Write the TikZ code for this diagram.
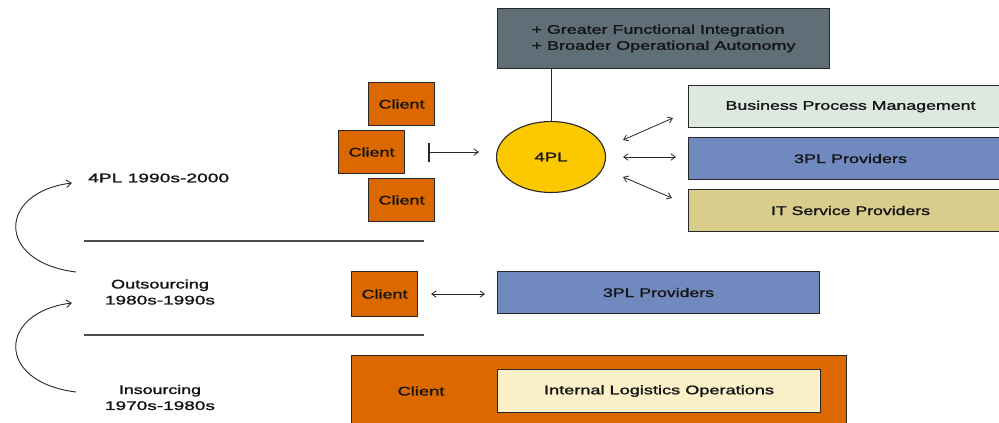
\documentclass[tikz,border=0pt]{standalone}
\usepackage{fontspec}
\setmainfont{Liberation Sans}[RawFeature={embolden=1.3}]
\usetikzlibrary{arrows.meta,shapes.geometric}
\newcommand\tw[2]{\resizebox{#1pt}{\height}{#2}}
\definecolor{corange}{RGB}{220,105,0}
\definecolor{cyellow}{RGB}{252,200,0}
\definecolor{cslate}{RGB}{95,110,119}
\definecolor{cbpm}{RGB}{220,232,224}
\definecolor{cblue}{RGB}{112,137,191}
\definecolor{cit}{RGB}{217,205,139}
\definecolor{ccream}{RGB}{251,240,200}
\definecolor{cline}{RGB}{40,40,40}
\definecolor{ctext}{RGB}{20,20,20}
\tikzset{
  box/.style={draw=cline, line width=1.1pt, inner sep=0pt, anchor=north west, text=ctext},
  lbl/.style={inner sep=0pt, text=ctext},
  sepline/.style={draw=black!70, line width=1.1pt},
  dbl/.style={draw=cline, line width=0.8pt, {Straight Barb[length=4.5pt,width=6.5pt]}-{Straight Barb[length=4.5pt,width=6.5pt]}},
  barrow/.style={draw=cline, line width=0.8pt, -{Straight Barb[length=4.5pt,width=6.5pt]}},
  curv/.style={draw=cline, line width=0.9pt, -{Straight Barb[length=5pt,width=7.5pt]}}
}
\begin{document}
\begin{tikzpicture}[x=1pt,y=-1pt, font=\fontsize{12.5}{16}\selectfont]
\useasboundingbox (0,0) rectangle (999,423);
\clip (0,0) rectangle (999,423);
\fill[white] (0,0) rectangle (999,423);

% top box
\node[box, fill=cslate, minimum width=332, minimum height=60, align=left] (top) at (497,8)
  {\tw{253}{+ Greater Functional Integration}\\\tw{264}{+ Broader Operational Autonomy}};

% 4PL circle
\node[ellipse, draw=cline, line width=1.1pt, fill=cyellow, minimum width=109, minimum height=71, inner sep=0pt, text=ctext] (c4pl) at (551,157) {\tw{33}{4PL}};
\draw[draw=cline, line width=0.9pt] (c4pl.north) -- (c4pl.north |- top.south);

% clients
\node[box, fill=corange, minimum width=66, minimum height=43] (cl1) at (368,82) {\tw{46}{Client}};
\node[box, fill=corange, minimum width=66, minimum height=43] (cl2) at (338,130) {\tw{46}{Client}};
\node[box, fill=corange, minimum width=66, minimum height=43] (cl3) at (368,178) {\tw{46}{Client}};
\coordinate (bs) at ([xshift=24pt]cl2.east);
\coordinate (be) at ([xshift=-17pt]c4pl.west);
\draw[barrow] (bs) -- (be |- bs);
\draw[draw=cline, line width=1.8pt] ([yshift=-9.5pt]bs) -- ([yshift=9.5pt]bs);

% right boxes
\node[box, fill=cbpm, minimum width=324, minimum height=42] (bpm) at (688,85) {\tw{250}{Business Process Management}};
\node[box, fill=cblue, minimum width=324, minimum height=42] (tpl) at (688,137) {\tw{113}{3PL Providers}};
\node[box, fill=cit, minimum width=324, minimum height=42] (its) at (688,189) {\tw{159}{IT Service Providers}};

\coordinate (a1) at (623,140); \coordinate (b1) at (673,118);
\coordinate (a2) at (623,157); \coordinate (b2) at (676,157);
\coordinate (a3) at (623,177); \coordinate (b3) at (672,198);
\draw[dbl] (a1) -- (b1);
\draw[dbl] (a2) -- (b2);
\draw[dbl] (a3) -- (b3);

% left labels
\node[lbl, anchor=west] (l4pl) at (88,178) {\tw{141}{4PL 1990s-2000}};
\node[lbl, align=center] (lout) at (160,292) {\tw{98}{Outsourcing}\\\tw{110}{1980s-1990s}};
\node[lbl, align=center] (lins) at (160,397.5) {\tw{82}{Insourcing}\\\tw{110}{1970s-1980s}};

% separator lines
\coordinate (s1a) at (84,241); \coordinate (s1b) at (424,241);
\coordinate (s2a) at (84,335); \coordinate (s2b) at (424,335);
\draw[sepline] (s1a) -- (s1b);
\draw[sepline] (s2a) -- (s2b);

% curved arrows
\coordinate (ca1) at (76,272); \coordinate (ca2) at (72,183);
\coordinate (cb1) at (76,392); \coordinate (cb2) at (72,303);
\draw[curv] (ca1) .. controls (-5,262) and (-2,192) .. (ca2);
\draw[curv] (cb1) .. controls (-5,382) and (-2,312) .. (cb2);

% outsourcing row
\node[box, fill=corange, minimum width=66, minimum height=45] (clo) at (351,271) {\tw{46}{Client}};
\node[box, fill=cblue, minimum width=322, minimum height=42] (tplo) at (497,271) {\tw{111}{3PL Providers}};
\coordinate (os) at ([xshift=13pt]clo.east);
\coordinate (oe) at ([xshift=-12pt]tplo.west);
\draw[dbl] (os) -- (oe |- os);

% insourcing row
\node[box, fill=corange, minimum width=495, minimum height=90] (cli) at (351,355) {};
\node[lbl] (clitext) at (421,391) {\tw{47}{Client}};
\node[box, fill=ccream, minimum width=323, minimum height=43] (ilo) at (497,369) {\tw{230}{Internal Logistics Operations}};
\end{tikzpicture}
\end{document}
